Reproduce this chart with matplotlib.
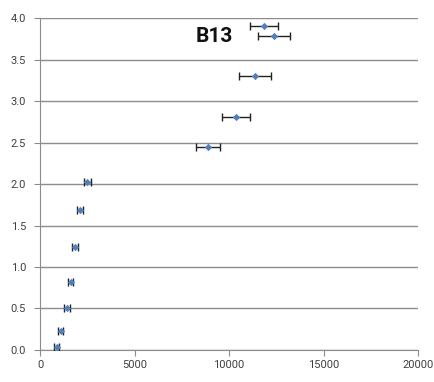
import matplotlib
matplotlib.use("Agg")
import matplotlib.pyplot as plt

x_vals = [880, 1100, 1430, 1620, 1850, 2120, 2500, 8870, 10350, 11390, 12360, 11850]
y_vals = [0.04, 0.23, 0.50, 0.815, 1.24, 1.69, 2.02, 2.44, 2.81, 3.30, 3.78, 3.90]
x_err = [130, 130, 140, 150, 150, 160, 180, 640, 740, 850, 840, 750]
title_text = "B13"
x_ticks = [0, 5000, 10000, 15000, 20000]
y_ticks = [0.0, 0.5, 1.0, 1.5, 2.0, 2.5, 3.0, 3.5, 4.0]

fig = plt.figure(figsize=(4.34, 3.82), dpi=100)
ax = fig.add_axes([0.0922, 0.0838, 0.871, 0.869])

ax.errorbar(x_vals, y_vals, xerr=x_err, fmt="none", ecolor="#222222",
            elinewidth=1.0, capsize=3, capthick=1.0, zorder=3)
ax.scatter(x_vals, y_vals, marker="D", s=14, color="#4F81BD", zorder=4, linewidths=0)

ax.set_xlim(0, 20000)
ax.set_ylim(0, 4.0)
ax.set_xticks(x_ticks)
ax.set_yticks(y_ticks)
ax.set_xticklabels([str(t) for t in x_ticks], family="Roboto")
ax.set_yticklabels([f"{t:.1f}" for t in y_ticks], family="Roboto")
ax.yaxis.grid(True, color="#8c8c8c", linewidth=1.0)
ax.set_axisbelow(True)
for s in ["top", "right"]:
    ax.spines[s].set_visible(False)
for s in ["left", "bottom"]:
    ax.spines[s].set_color("#8c8c8c")
ax.tick_params(axis="both", colors="#8c8c8c", labelcolor="#404040", labelsize=8, length=4)
ax.tick_params(axis="x", pad=3)
ax.tick_params(axis="y", pad=6)

ax.text(8250, 3.66, title_text, fontsize=15, fontweight="bold", family="Roboto",
        color="#111111", va="bottom", ha="left")

fig.savefig("out.png", dpi=100)
